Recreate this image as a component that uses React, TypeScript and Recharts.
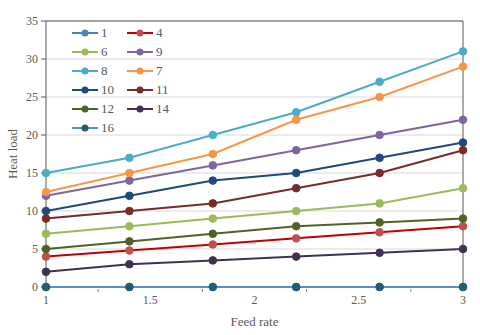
import { LineChart, Line, XAxis, YAxis, CartesianGrid, ReferenceLine, Legend } from "recharts"

const feedRate = [1, 1.4, 1.8, 2.2, 2.6, 3]
const xTicks = [1, 1.25, 1.5, 1.75, 2, 2.25, 2.5, 2.75, 3]
const yTicks = [0, 5, 10, 15, 20, 25, 30, 35]

const s1 = [0, 0, 0, 0, 0, 0]
const s4 = [4, 4.8, 5.6, 6.4, 7.2, 8]
const s6 = [7, 8, 9, 10, 11, 13]
const s9 = [12, 14, 16, 18, 20, 22]
const s8 = [15, 17, 20, 23, 27, 31]
const s7 = [12.5, 15, 17.5, 22, 25, 29]
const s10 = [10, 12, 14, 15, 17, 19]
const s11 = [9, 10, 11, 13, 15, 18]
const s12 = [5, 6, 7, 8, 8.5, 9]
const s14 = [2, 3, 3.5, 4, 4.5, 5]
const s16 = [0, 0, 0, 0, 0, 0]

const series = [
  { key: "1", values: s1, stroke: "#4f81bd", dot: "#4f81bd" },
  { key: "4", values: s4, stroke: "#c00000", dot: "#c0504d" },
  { key: "6", values: s6, stroke: "#9bbb59", dot: "#9bbb59" },
  { key: "9", values: s9, stroke: "#8064a2", dot: "#8064a2" },
  { key: "8", values: s8, stroke: "#4bacc6", dot: "#4bacc6" },
  { key: "7", values: s7, stroke: "#f79646", dot: "#f79646" },
  { key: "10", values: s10, stroke: "#1f497d", dot: "#1f497d" },
  { key: "11", values: s11, stroke: "#772c2a", dot: "#772c2a" },
  { key: "12", values: s12, stroke: "#4f6228", dot: "#4f6228" },
  { key: "14", values: s14, stroke: "#403152", dot: "#403152" },
  { key: "16", values: s16, stroke: "#5b8ec7", dot: "#215e70" },
]

const data = feedRate.map((x, i) => {
  const row: Record<string, number> = { x }
  series.forEach((s) => (row[s.key] = s.values[i]))
  return row
})

const font = "'Liberation Serif', 'Times New Roman', serif"
const textColor = "#595959"

const XTick = (props: any) => {
  const { x, y, payload } = props
  const v = payload.value
  if (Math.abs(v * 2 - Math.round(v * 2)) > 0.01) {
    return <line x1={x} x2={x} y1={y + 2} y2={y + 5} stroke="#7f7f7f" />
  }
  return (
    <text x={x} y={y + 17} textAnchor="middle" fill={textColor} fontSize={12} fontFamily={font}>
      {v}
    </text>
  )
}

const LegendBox = () => (
  <div style={{ display: "grid", gridTemplateColumns: "55px 55px", rowGap: 0 }}>
    {series.map((s) => (
      <div key={s.key} style={{ display: "flex", alignItems: "center", height: 19 }}>
        <svg width={29} height={10}>
          <line x1={1} x2={27} y1={5} y2={5} stroke={s.stroke} strokeWidth={2} />
          <circle cx={14} cy={5} r={3.5} fill={s.dot} />
        </svg>
        <span style={{ fontFamily: font, fontSize: 13, color: textColor, marginLeft: 1 }}>{s.key}</span>
      </div>
    ))}
  </div>
)

export default function App() {
  return (
    <div style={{ position: "fixed", left: 0, top: 0, width: 480, height: 335, background: "#fff" }}>
      <LineChart width={480} height={335} data={data} margin={{ top: 21, right: 17, bottom: 0, left: 0 }}>
        <CartesianGrid horizontal vertical={false} stroke="#d9d9d9" />
        <XAxis
          dataKey="x"
          type="number"
          domain={[1, 3]}
          ticks={xTicks}
          interval={0}
          tickLine={false}
          tickSize={0}
          tickMargin={0}
          tick={<XTick />}
          axisLine={false}
          height={48}
          label={{ value: "Feed rate", position: "insideBottom", offset: 9, fill: textColor, fontSize: 13, fontFamily: font }}
        />
        <YAxis
          type="number"
          domain={[0, 35]}
          ticks={yTicks}
          width={46}
          tickSize={5}
          tickMargin={3}
          tickLine={{ stroke: "#595959" }}
          axisLine={{ stroke: "#595959" }}
          tick={{ fill: textColor, fontSize: 12, fontFamily: font }}
          label={{
            value: "Heat load",
            angle: -90,
            position: "insideLeft",
            offset: 12,
            fill: textColor,
            fontSize: 13,
            fontFamily: font,
            style: { textAnchor: "middle" },
          }}
        />
        <ReferenceLine y={35} stroke="#595959" />
        <ReferenceLine x={3} stroke="#595959" />
        <Legend
          layout="horizontal"
          verticalAlign="middle"
          align="center"
          content={<LegendBox />}
          wrapperStyle={{ top: 23, left: 71, width: 120, height: 115 }}
        />
        {series.map((s) => (
          <Line
            key={s.key}
            dataKey={s.key}
            stroke={s.stroke}
            strokeWidth={2}
            dot={{ r: 3.8, fill: s.dot, stroke: s.dot, strokeWidth: 1 }}
            activeDot={false}
            isAnimationActive={false}
          />
        ))}
      </LineChart>
    </div>
  )
}
